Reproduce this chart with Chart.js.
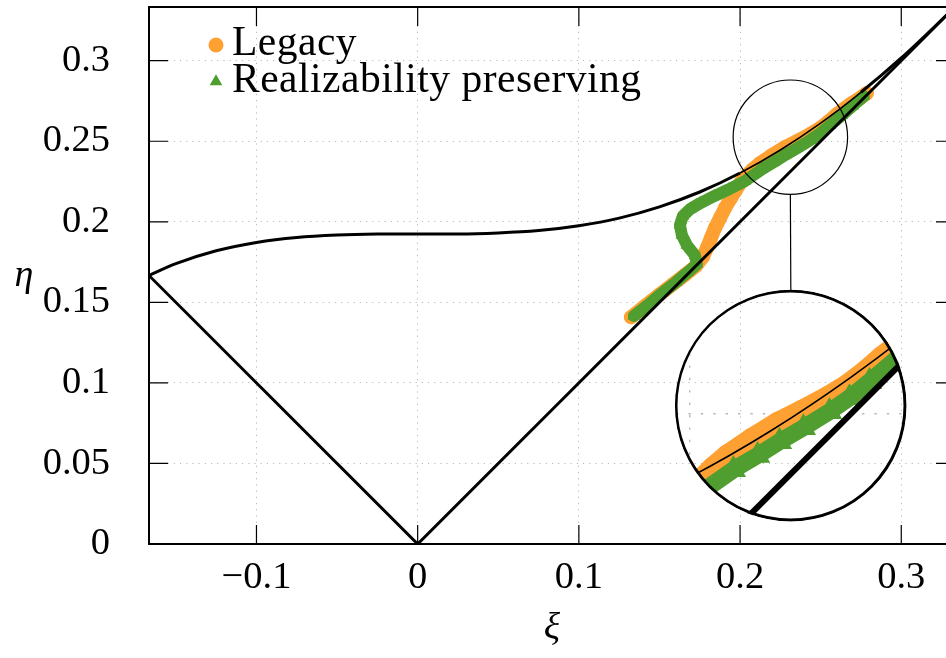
<!DOCTYPE html>
<html>
<head>
<meta charset="utf-8">
<script src="https://cdn.jsdelivr.net/npm/chart.js@4.4.1/dist/chart.umd.min.js"></script>
<style>
html, body { margin: 0; padding: 0; background: #fff; overflow: hidden; }
#wrap { position: relative; width: 946px; height: 658px; overflow: hidden; }
#main { position: absolute; left: 0; top: 0; }
#inset { position: absolute; }
</style>
</head>
<body>
<div id="wrap">
  <canvas id="main" width="960" height="658"></canvas>
  <canvas id="inset" width="236" height="236"></canvas>
</div>
<script>
// ---------------- data ----------------
const seriesNames = ['Legacy', 'Realizability preserving'];

const legacyXi  = [0.1323, 0.1410, 0.1496, 0.1583, 0.1664, 0.1726, 0.1769, 0.1794, 0.1819, 0.1844, 0.1875, 0.1906, 0.1943, 0.1974, 0.2005, 0.2042, 0.2079, 0.2123, 0.2197, 0.2278, 0.2352, 0.2433, 0.2495, 0.2551, 0.2600, 0.2650, 0.2693, 0.2743, 0.2786];
const legacyEta = [0.1408, 0.1477, 0.1545, 0.1613, 0.1675, 0.1725, 0.1781, 0.1836, 0.1898, 0.1960, 0.2022, 0.2084, 0.2146, 0.2196, 0.2246, 0.2289, 0.2326, 0.2363, 0.2413, 0.2463, 0.2500, 0.2543, 0.2581, 0.2624, 0.2667, 0.2705, 0.2736, 0.2767, 0.2798];

const rpXi  = [0.1341, 0.1428, 0.1515, 0.1602, 0.1676, 0.1732, 0.1720, 0.1670, 0.1639, 0.1627, 0.1645, 0.1689, 0.1751, 0.1838, 0.1931, 0.2030, 0.2135, 0.2210, 0.2278, 0.2352, 0.2433, 0.2495, 0.2557, 0.2631, 0.2700, 0.2768];
const rpEta = [0.1415, 0.1483, 0.1557, 0.1625, 0.1687, 0.1737, 0.1793, 0.1855, 0.1917, 0.1979, 0.2035, 0.2078, 0.2115, 0.2159, 0.2202, 0.2252, 0.2326, 0.2370, 0.2413, 0.2456, 0.2506, 0.2549, 0.2599, 0.2661, 0.2720, 0.2779];

// boundary of the realizable region
const curveXi  = [-0.1667, -0.15, -0.125, -0.1, -0.075, -0.05, -0.025, 0, 0.025, 0.05, 0.075, 0.1, 0.125, 0.15, 0.175, 0.2, 0.225, 0.25, 0.275, 0.3, 0.3333];
const curveEta = [0.1667, 0.1740, 0.1820, 0.1872, 0.1903, 0.1918, 0.1924, 0.1925, 0.1925, 0.1931, 0.1946, 0.1976, 0.2023, 0.2093, 0.2185, 0.2303, 0.2446, 0.2613, 0.2804, 0.3017, 0.3333];
const diagXi  = [0, 0.3333];
const diagEta = [0, 0.3333];
const leftXi  = [-0.1667, 0];
const leftEta = [0.1667, 0];

// axes
const xMin = -1 / 6, xMax = 1 / 3, yMin = 0, yMax = 1 / 3;
const xTicks = [-0.1, 0, 0.1, 0.2, 0.3];
const xTickLabels = ['\u22120.1', '0', '0.1', '0.2', '0.3'];
const yTicks = [0, 0.05, 0.1, 0.15, 0.2, 0.25, 0.3];
const yTickLabels = ['0', '0.05', '0.1', '0.15', '0.2', '0.25', '0.3'];
const xTitle = '\u03be';
const yTitle = '\u03b7';

// magnified view
const zoomCenter = [0.2312, 0.2525];
const zoomRadius = 0.0355;
const insetCenter = [0.2315, 0.0858];
const magnify = 2;

// ---------------- style ----------------
const FONT = "'Liberation Serif', 'Times New Roman', serif";
const ORANGE = '#ffa033';
const GREEN = '#4f9e2f';
const GRIDC = 'rgba(0,0,0,0.28)';

const pts = (xs, ys) => xs.map((x, i) => ({ x: x, y: ys[i] }));

function datasets(scale, curveThin, greenBand) {
  return [
    { label: 'curve', data: pts(curveXi, curveEta), showLine: true, borderColor: '#000',
      borderWidth: 3 * scale, pointRadius: 0, cubicInterpolationMode: 'monotone', order: 0,
      segment: { borderWidth: c => curveThin(c.p0.parsed.x, c.p1.parsed.x) } },
    { label: 'diag', data: pts(diagXi, diagEta), showLine: true, borderColor: '#000',
      borderWidth: 3 * scale, pointRadius: 0, order: 0 },
    { label: 'left', data: pts(leftXi, leftEta), showLine: true, borderColor: '#000',
      borderWidth: 3 * scale, pointRadius: 0, order: 0 },
    { label: seriesNames[1], data: pts(rpXi, rpEta), showLine: true, borderColor: GREEN,
      borderWidth: greenBand, borderJoinStyle: 'round', borderCapStyle: 'round',
      pointStyle: 'triangle', pointRadius: 7.3 * scale, pointBorderWidth: 0,
      pointBackgroundColor: GREEN, backgroundColor: GREEN, order: 1 },
    { label: seriesNames[0], data: pts(legacyXi, legacyEta), showLine: true, borderColor: ORANGE,
      borderWidth: 14 * scale, borderJoinStyle: 'round', borderCapStyle: 'round',
      pointStyle: 'circle', pointRadius: 7 * scale, pointBorderWidth: 0,
      pointBackgroundColor: ORANGE, backgroundColor: ORANGE, order: 2 }
  ];
}

function noPad(s) {
  s.paddingTop = 0; s.paddingBottom = 0; s.paddingLeft = 0; s.paddingRight = 0;
}

// ---------------- main chart ----------------
const framePlugin = {
  id: 'frame',
  afterDraw(chart) {
    const ctx = chart.ctx;
    const { left, top, right, bottom } = chart.chartArea;
    const xs = chart.scales.x, ys = chart.scales.y;
    ctx.save();
    // inward tick marks
    ctx.strokeStyle = '#000';
    ctx.lineWidth = 1.2;
    ctx.beginPath();
    xTicks.forEach(v => {
      const p = xs.getPixelForValue(v);
      ctx.moveTo(p, bottom); ctx.lineTo(p, bottom - 19);
      ctx.moveTo(p, top); ctx.lineTo(p, top + 19);
    });
    yTicks.forEach(v => {
      const p = ys.getPixelForValue(v);
      ctx.moveTo(left, p); ctx.lineTo(left + 19, p);
      ctx.moveTo(right, p); ctx.lineTo(right - 19, p);
    });
    ctx.stroke();
    // frame
    ctx.lineWidth = 2;
    ctx.strokeRect(left, top, right - left, bottom - top);

    // magnifier: small circle, connector
    const cx = xs.getPixelForValue(zoomCenter[0]);
    const cy = ys.getPixelForValue(zoomCenter[1]);
    const r = xs.getPixelForValue(zoomCenter[0] + zoomRadius) - cx;
    const bx = xs.getPixelForValue(insetCenter[0]);
    const by = ys.getPixelForValue(insetCenter[1]);
    const R = r * magnify;
    ctx.lineWidth = 1.2;
    ctx.beginPath();
    ctx.arc(cx, cy, r, 0, Math.PI * 2);
    ctx.stroke();
    ctx.beginPath();
    ctx.moveTo(cx, cy + r);
    ctx.lineTo(bx, by - R);
    ctx.stroke();

    // legend
    const lx = left + 67, ly1 = top + 38, ly2 = top + 74.6;
    ctx.fillStyle = ORANGE;
    Chart.helpers.drawPoint(ctx, { pointStyle: 'circle', radius: 7.5, borderWidth: 0 }, lx, ly1);
    ctx.fillStyle = GREEN;
    Chart.helpers.drawPoint(ctx, { pointStyle: 'triangle', radius: 7.3, borderWidth: 0 }, lx, ly2);
    ctx.fillStyle = '#000';
    ctx.font = '41.5px ' + FONT;
    ctx.textBaseline = 'alphabetic';
    ctx.textAlign = 'left';
    ctx.letterSpacing = '0.5px';
    ctx.fillText(seriesNames[0], left + 83, top + 48);
    ctx.fillText(seriesNames[1], left + 83, top + 84.7);
    ctx.letterSpacing = '0px';

    // y axis title (upright, like the original)
    ctx.font = 'italic 38px ' + FONT;
    ctx.textAlign = 'center';
    ctx.fillText(yTitle, left - 125, (top + bottom) / 2 + 10);
    ctx.restore();
  }
};

const mainChart = new Chart(document.getElementById('main'), {
  type: 'scatter',
  data: { datasets: datasets(1, (a, b) => (a >= 0.2 && b <= 0.276) ? 1.6 : 3, 12) },
  options: {
    responsive: false,
    animation: false,
    events: [],
    layout: { autoPadding: false, padding: { left: 0, top: 7, right: 5, bottom: 0 } },
    plugins: { legend: { display: false }, tooltip: { enabled: false } },
    scales: {
      x: {
        type: 'linear', min: xMin, max: xMax,
        afterBuildTicks: s => { s.ticks = xTicks.map(v => ({ value: v })); },
        afterFit: s => { s.height = 114; noPad(s); },
        ticks: {
          callback: (v) => xTickLabels[xTicks.findIndex(t => Math.abs(t - v) < 1e-9)],
          font: { family: FONT, size: 38.5 }, color: '#000', padding: 11,
          maxRotation: 0, autoSkip: false
        },
        grid: { drawTicks: false, color: GRIDC, lineWidth: 1 },
        border: { display: false, dash: [1.2, 5] },
        title: { display: true, text: xTitle, color: '#000',
                 font: { family: FONT, size: 38, style: 'italic' },
                 padding: { top: 0, bottom: 6 } }
      },
      y: {
        type: 'linear', min: yMin, max: yMax,
        afterBuildTicks: s => { s.ticks = yTicks.map(v => ({ value: v })); },
        afterFit: s => { s.width = 149; noPad(s); },
        ticks: {
          callback: (v) => yTickLabels[yTicks.findIndex(t => Math.abs(t - v) < 1e-9)],
          font: { family: FONT, size: 38.5 }, color: '#000', padding: 39,
          autoSkip: false
        },
        grid: { drawTicks: false, color: GRIDC, lineWidth: 1 },
        border: { display: false, dash: [1.2, 5] }
      }
    }
  },
  plugins: [framePlugin]
});

// ---------------- magnified inset ----------------
(function () {
  const xs = mainChart.scales.x, ys = mainChart.scales.y;
  const cx = xs.getPixelForValue(zoomCenter[0]);
  const r = xs.getPixelForValue(zoomCenter[0] + zoomRadius) - cx;
  const R = r * magnify;
  const bx = xs.getPixelForValue(insetCenter[0]);
  const by = ys.getPixelForValue(insetCenter[1]);
  const pad = 3;
  const size = Math.round(2 * R + 2 * pad);
  const cv = document.getElementById('inset');
  cv.width = size; cv.height = size;
  cv.style.left = (bx - R - pad) + 'px';
  cv.style.top = (by - R - pad) + 'px';
  cv.style.clipPath = 'circle(' + (R + 1.5) + 'px at 50% 50%)';

  const ringPlugin = {
    id: 'ring',
    afterDraw(chart) {
      const ctx = chart.ctx;
      const a = chart.chartArea;
      ctx.save();
      ctx.strokeStyle = '#000';
      ctx.lineWidth = 3;
      ctx.beginPath();
      ctx.arc((a.left + a.right) / 2, (a.top + a.bottom) / 2, (a.right - a.left) / 2, 0, Math.PI * 2);
      ctx.stroke();
      ctx.restore();
    }
  };

  const ds = datasets(magnify, () => 1.6, 17);
  new Chart(cv, {
    type: 'scatter',
    data: { datasets: ds },
    options: {
      responsive: false,
      animation: false,
      events: [],
      layout: { autoPadding: false, padding: pad },
      plugins: { legend: { display: false }, tooltip: { enabled: false } },
      scales: {
        x: {
          type: 'linear', min: zoomCenter[0] - zoomRadius, max: zoomCenter[0] + zoomRadius,
          afterBuildTicks: s => { s.ticks = xTicks.filter(v => v > s.min && v < s.max).map(v => ({ value: v })); },
          afterFit: s => { s.height = 0; noPad(s); },
          ticks: { display: false },
          grid: { drawTicks: false, color: GRIDC, lineWidth: 1.4 },
          border: { display: false, dash: [2.4, 10] }
        },
        y: {
          type: 'linear', min: zoomCenter[1] - zoomRadius, max: zoomCenter[1] + zoomRadius,
          afterBuildTicks: s => { s.ticks = yTicks.filter(v => v > s.min && v < s.max).map(v => ({ value: v })); },
          afterFit: s => { s.width = 0; noPad(s); },
          ticks: { display: false },
          grid: { drawTicks: false, color: GRIDC, lineWidth: 1.4 },
          border: { display: false, dash: [2.4, 10] }
        }
      }
    },
    plugins: [ringPlugin]
  });
})();
</script>
</body>
</html>
